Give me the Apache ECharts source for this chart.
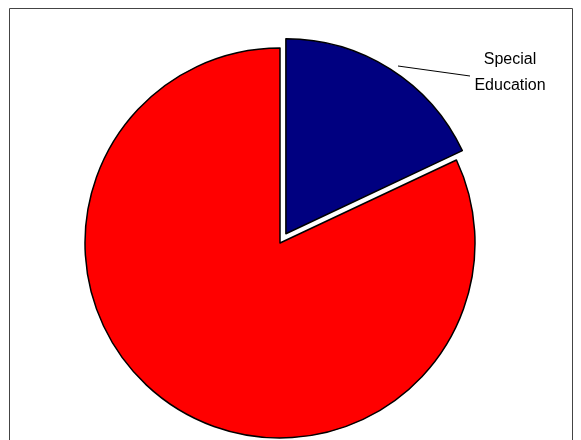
<!DOCTYPE html>
<html>
<head>
<meta charset="UTF-8">
<script src="https://cdn.jsdelivr.net/npm/echarts@6/dist/echarts.min.js"></script>
<style>html,body{margin:0;padding:0;background:#fff}#c{width:581px;height:440px}</style>
</head>
<body>
<div id="c"></div>
<script>
var categories = ['Special Education', 'Other'];
var values = [18, 82];
var colors = ['#000080', '#ff0000'];

var chart = echarts.init(document.getElementById('c'));
chart.setOption({
	animation: false,
	graphic: [{
		type: 'rect',
		shape: { x: 9.5, y: 8.5, width: 563, height: 440 },
		style: { fill: 'none', stroke: '#444', lineWidth: 1 }
	}, {
		type: 'text', x: 510, y: 73,
		style: {
			text: 'Special\nEducation', align: 'center', verticalAlign: 'middle',
			font: '16px "Liberation Sans", Arial', lineHeight: 26, fill: '#000'
		}
	}, {
		type: 'polyline',
		shape: { points: [[398, 66], [470, 76]] },
		style: { stroke: '#000', lineWidth: 1, fill: 'none' }
	}],
	series: [{
		type: 'pie',
		center: [280, 243],
		radius: 195,
		startAngle: 90,
		selectedMode: 'multiple',
		selectedOffset: 11,
		label: { show: false },
		labelLine: { show: false },
		itemStyle: { borderColor: '#000', borderWidth: 1.5 },
		emphasis: { disabled: true },
		data: categories.map(function (c, i) {
			return { name: c, value: values[i], selected: i === 0, itemStyle: { color: colors[i] } };
		})
	}]
});
</script>
</body>
</html>
